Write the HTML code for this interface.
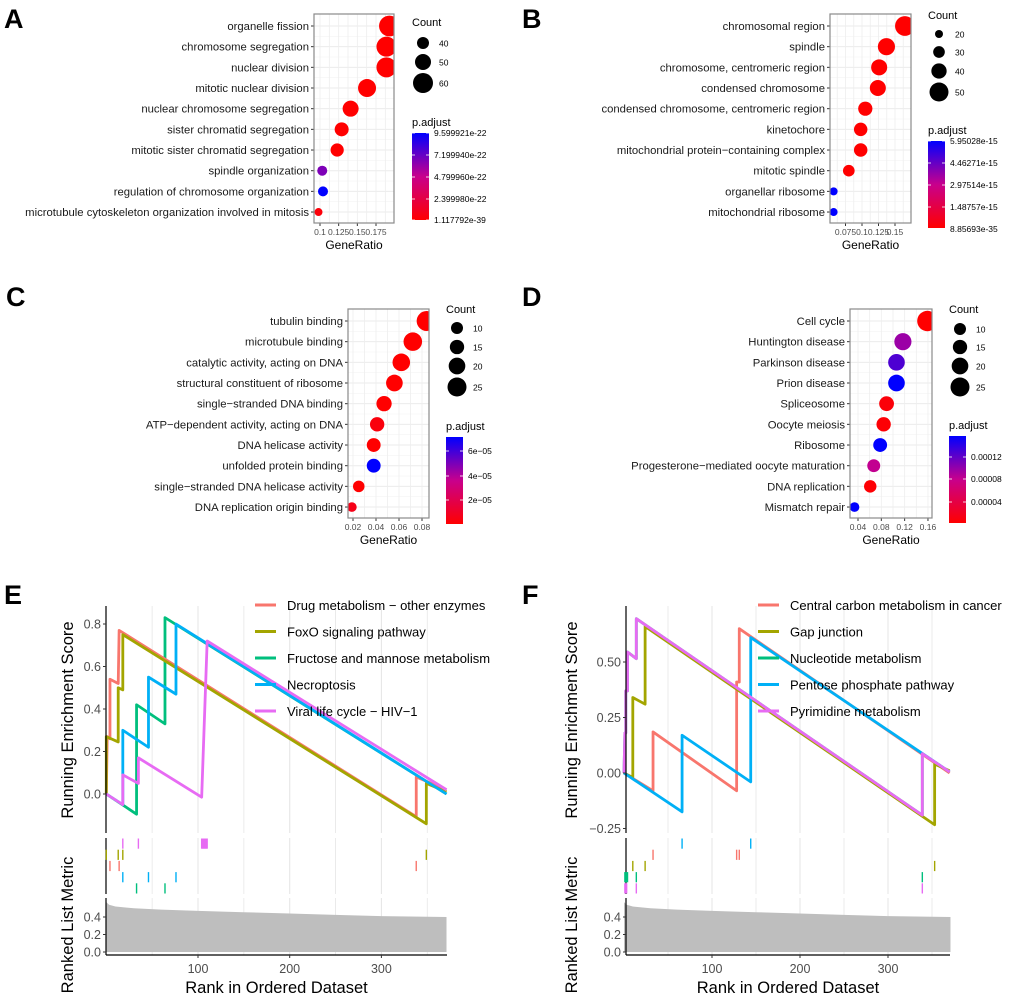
<!DOCTYPE html>
<html><head><meta charset="utf-8"><style>
body{margin:0;background:#fff}
svg{display:block;font-family:"Liberation Sans",Arial,sans-serif}
</style></head><body>
<svg id="fig" width="1020" height="1000" viewBox="0 0 1020 1000"></svg>
<script>
// ---------- Panel A data ----------
const aTerms=["organelle fission","chromosome segregation","nuclear division","mitotic nuclear division","nuclear chromosome segregation","sister chromatid segregation","mitotic sister chromatid segregation","spindle organization","regulation of chromosome organization","microtubule cytoskeleton organization involved in mitosis"];
const aRatio=[0.193,0.189,0.189,0.163,0.141,0.129,0.123,0.103,0.104,0.098];
const aCount=[62,60,60,55,50,45,43,35,35,30];
const aPadj=[0,0,0,0,0,0,0,6.6,9.6,0.3];
const aTicks=[0.1,0.125,0.15,0.175];
const aTickLabels=["0.1","0.125","0.15","0.175"];
const aCountLegend=[40,50,60];
const aPadjLabels=["9.599921e-22","7.199940e-22","4.799960e-22","2.399980e-22","1.117792e-39"];
// ---------- Panel B data ----------
const bTerms=["chromosomal region","spindle","chromosome, centromeric region","condensed chromosome","condensed chromosome, centromeric region","kinetochore","mitochondrial protein\u2212containing complex","mitotic spindle","organellar ribosome","mitochondrial ribosome"];
const bRatio=[0.165,0.137,0.126,0.124,0.105,0.098,0.098,0.080,0.057,0.057];
const bCount=[52,45,42,42,37,35,35,30,20,20];
const bPadj=[0,0,0,0,0,0,0,0,5.95,5.95];
const bTicks=[0.075,0.1,0.125,0.15];
const bTickLabels=["0.075","0.1","0.125","0.15"];
const bCountLegend=[20,30,40,50];
const bPadjLabels=["5.95028e-15","4.46271e-15","2.97514e-15","1.48757e-15","8.85693e-35"];
// ---------- Panel C data ----------
const cTerms=["tubulin binding","microtubule binding","catalytic activity, acting on DNA","structural constituent of ribosome","single\u2212stranded DNA binding","ATP\u2212dependent activity, acting on DNA","DNA helicase activity","unfolded protein binding","single\u2212stranded DNA helicase activity","DNA replication origin binding"];
const cRatio=[0.084,0.072,0.062,0.056,0.047,0.041,0.038,0.038,0.025,0.019];
const cCount=[27,24,22,20,17,15,14,14,9,5];
const cPadj=[0,0,0,0,0,0.3,0,7.2,0,0.6];
const cTicks=[0.02,0.04,0.06,0.08];
const cTickLabels=["0.02","0.04","0.06","0.08"];
const cCountLegend=[10,15,20,25];
const cPadjLabels=["6e\u221205","4e\u221205","2e\u221205"];
// ---------- Panel D data ----------
const dTerms=["Cell cycle","Huntington disease","Parkinson disease","Prion disease","Spliceosome","Oocyte meiosis","Ribosome","Progesterone\u2212mediated oocyte maturation","DNA replication","Mismatch repair"];
const dRatio=[0.159,0.117,0.106,0.106,0.089,0.084,0.078,0.067,0.061,0.034];
const dCount=[28,21,20,20,16,15,14,12,11,5];
const dPadj=[0,9.5,12.5,15.5,0.5,0.3,15.5,8,0.2,15.5];
const dTicks=[0.04,0.08,0.12,0.16];
const dTickLabels=["0.04","0.08","0.12","0.16"];
const dCountLegend=[10,15,20,25];
const dPadjLabels=["0.00012","0.00008","0.00004"];
// ---------- Panel E (GSEA) data ----------
const eNames=["Drug metabolism \u2212 other enzymes","FoxO signaling pathway","Fructose and mannose metabolism","Necroptosis","Viral life cycle \u2212 HIV\u22121"];
const eRedRank=[0,1,4,4,13,14,338,338,371];
const eRedES=[0,0.27,0.26,0.54,0.52,0.77,-0.107,0.08,0.02];
const eOliveRank=[0,0,13,13,18,18,349,349,371];
const eOliveES=[0,0.27,0.245,0.5,0.49,0.75,-0.14,0.05,0.01];
const eGreenRank=[0,33,33,64,64,371];
const eGreenES=[0,-0.095,0.42,0.33,0.83,0.0];
const eBlueRank=[0,18,18,46,46,76,76,371];
const eBlueES=[0,-0.05,0.30,0.22,0.55,0.47,0.80,0.0];
const ePinkRank=[0,18,18,35,35,104,110,371];
const ePinkES=[0,-0.05,0.09,0.05,0.17,-0.015,0.72,0.02];
const eHitsPink=[18,35,104,105,106,107,108,109,110];
const eHitsOlive=[0,13,18,349];
const eHitsRed=[4,14,338];
const eHitsBlue=[18,46,76];
const eHitsGreen=[33,64];
const eYTicks=[0,0.2,0.4,0.6,0.8];
const eYTickLabels=["0.0","0.2","0.4","0.6","0.8"];
// ---------- Panel F (GSEA) data ----------
const fNames=["Central carbon metabolism in cancer","Gap junction","Nucleotide metabolism","Pentose phosphate pathway","Pyrimidine metabolism"];
const fRedRank=[0,33,33,128,128,131,131,370];
const fRedES=[0,-0.08,0.185,-0.08,0.41,0.41,0.65,0.0];
const fOliveRank=[0,10,10,24,24,353,353,370];
const fOliveES=[0,-0.02,0.34,0.31,0.66,-0.233,0.04,0.01];
const fGreenRank=[0,1,2,2,4,4,14,14,339,339,370];
const fGreenES=[0,0.18,0.18,0.37,0.37,0.545,0.515,0.695,-0.19,0.087,0.005];
const fBlueRank=[0,66,66,144,144,370];
const fBlueES=[0,-0.175,0.17,-0.04,0.61,0.005];
const fPinkRank=[0,1,2,2,4,4,14,14,339,339,370];
const fPinkES=[0,0.18,0.18,0.37,0.37,0.545,0.515,0.695,-0.19,0.087,0.005];
const fHitsBlue=[66,144];
const fHitsRed=[33,128,131];
const fHitsOlive=[10,24,353];
const fHitsGreen=[1,2,3,4,14,339];
const fHitsPink=[1,2,3,14,339];
const fYTicks=[-0.25,0,0.25,0.5];
const fYTickLabels=["\u22120.25","0.00","0.25","0.50"];
// ---------- shared ranked-list metric ----------
const metricRank=[0,3,10,30,60,100,150,200,250,300,371];
const metricVal=[0.57,0.54,0.52,0.50,0.485,0.47,0.455,0.44,0.425,0.41,0.40];
const xTicks=[100,200,300];

const NS="http://www.w3.org/2000/svg";
const svg=document.getElementById('fig');
function el(tag,attrs,parent,text){const e=document.createElementNS(NS,tag);for(const k in attrs)e.setAttribute(k,attrs[k]);if(text!==undefined)e.textContent=text;(parent||svg).appendChild(e);return e;}
function padjColor(t){t=Math.max(0,Math.min(1,t));
 const stops=[[255,0,0],[200,0,140],[0,0,255]];let a,b,u;
 if(t<0.5){a=stops[0];b=stops[1];u=t/0.5;}else{a=stops[1];b=stops[2];u=(t-0.5)/0.5;}
 return `rgb(${Math.round(a[0]+(b[0]-a[0])*u)},${Math.round(a[1]+(b[1]-a[1])*u)},${Math.round(a[2]+(b[2]-a[2])*u)})`;}

function letter(txt,x,y){const t=el('text',{x:x,y:y,'font-size':27,'font-weight':'bold',fill:'#000'},svg,txt);
 }

function dotPanel(o){
 const g=el('g',{});
 const xs=v=>o.px0+(v-o.v0)*o.k;
 const rowY=i=>o.y0+12+i*20.67;
 const rad=c=>o.r0+(c-o.c0)*o.rk;
 for(let i=0;i<o.terms.length;i++){const y=rowY(i);el('line',{x1:o.x0,x2:o.x1,y1:y,y2:y,stroke:'#ebebeb','stroke-width':1},g);
  if(i<o.terms.length-1)el('line',{x1:o.x0,x2:o.x1,y1:y+10.33,y2:y+10.33,stroke:'#f4f4f4','stroke-width':0.6},g);}
 const step=o.ticks[1]-o.ticks[0];
 for(let v=o.ticks[0]-step*2;v<=o.ticks[o.ticks.length-1]+step*2;v+=step/2){const x=xs(v);if(x>o.x0&&x<o.x1)el('line',{x1:x,x2:x,y1:o.y0,y2:o.y1,stroke:'#eeeeee','stroke-width':0.8},g);}
 o.ticks.forEach((v,i)=>{const x=xs(v);el('line',{x1:x,x2:x,y1:o.y1,y2:o.y1+3,stroke:'#333'},g);
  const t=el('text',{x:x,y:o.y1+12,'font-size':8.5,'text-anchor':'middle',fill:'#4d4d4d'},g,o.tickLabels[i]);
  });
 const cid='clip-'+o.name;const cp=el('clipPath',{id:cid},g);el('rect',{x:o.x0,y:o.y0,width:o.x1-o.x0,height:o.y1-o.y0},cp);
 const dg=el('g',{'clip-path':`url(#${cid})`},g);
 o.terms.forEach((term,i)=>{const y=rowY(i);
  const c=el('circle',{cx:xs(o.ratio[i]),cy:y,r:rad(o.count[i]),fill:padjColor(o.padj[i]/o.pmax)},dg);
  
  
  el('line',{x1:o.x0-3,x2:o.x0,y1:y,y2:y,stroke:'#333'},g);
  const t=el('text',{x:o.x0-5,y:y+4,'font-size':11.3,'text-anchor':'end',fill:'#1a1a1a'},g,term);
  });
 const b=el('rect',{x:o.x0,y:o.y0,width:o.x1-o.x0,height:o.y1-o.y0,fill:'none',stroke:'#8a8a8a','stroke-width':1.2},g);
 
 const xt=el('text',{x:(o.x0+o.x1)/2,y:o.y1+26,'font-size':12,'text-anchor':'middle',fill:'#000'},g,'GeneRatio');
 
 const ct=el('text',{x:o.lx,y:o.ly,'font-size':11,fill:'#000'},g,'Count');
 
 o.countLegend.forEach((c,i)=>{const y=o.lys[i];
  const d=el('circle',{cx:o.lx+11,cy:y,r:rad(c),fill:'#000'},g);
  el('text',{x:o.lx+27,y:y+3.5,'font-size':8.5,fill:'#000'},g,String(c));});
 const pt=el('text',{x:o.lx,y:o.py,'font-size':11,fill:'#000'},g,'p.adjust');
 
 const gid='grad-'+o.name;const lg=el('linearGradient',{id:gid,x1:0,y1:0,x2:0,y2:1},g);
 for(let s=0;s<=10;s++)el('stop',{offset:s/10,'stop-color':padjColor(1-s/10)},lg);
 const bar=el('rect',{x:o.lx,y:o.by0,width:17,height:o.by1-o.by0,fill:`url(#${gid})`},g);
 
 o.padjLabels.forEach((lab,i)=>{const y=o.labYs[i];
  el('line',{x1:o.lx,x2:o.lx+3,y1:y,y2:y,stroke:'#fff','stroke-width':0.8},g);
  el('line',{x1:o.lx+14,x2:o.lx+17,y1:y,y2:y,stroke:'#fff','stroke-width':0.8},g);
  el('text',{x:o.lx+22,y:y+3,'font-size':8.5,fill:'#000'},g,lab);});
}

dotPanel({name:'panel-a',terms:aTerms,ratio:aRatio,count:aCount,padj:aPadj,pmax:9.6,x0:314,x1:394,y0:14,y1:223,px0:320,v0:0.1,k:746.7,ticks:aTicks,tickLabels:aTickLabels,r0:6,c0:40,rk:0.2,countLegend:aCountLegend,lx:412,ly:26,lys:[43,62,83],py:126,by0:133,by1:220,padjLabels:aPadjLabels,labYs:[133,155,177,199,220]});
dotPanel({name:'panel-b',terms:bTerms,ratio:bRatio,count:bCount,padj:bPadj,pmax:5.95,x0:830,x1:911,y0:14,y1:223,px0:862,v0:0.1,k:660,ticks:bTicks,tickLabels:bTickLabels,r0:4,c0:20,rk:0.183,countLegend:bCountLegend,lx:928,ly:19,lys:[34,52,71,92],py:134,by0:141,by1:228,padjLabels:bPadjLabels,labYs:[141,163,185,207,229]});
dotPanel({name:'panel-c',terms:cTerms,ratio:cRatio,count:cCount,padj:cPadj,pmax:7.2,x0:348,x1:429,y0:309,y1:518,px0:353,v0:0.02,k:1150,ticks:cTicks,tickLabels:cTickLabels,r0:6,c0:10,rk:0.233,countLegend:cCountLegend,lx:446,ly:313,lys:[328,347,366,387],py:430,by0:437,by1:524,padjLabels:cPadjLabels,labYs:[451,476,500]});
dotPanel({name:'panel-d',terms:dTerms,ratio:dRatio,count:dCount,padj:dPadj,pmax:15.5,x0:850,x1:932,y0:309,y1:518,px0:858,v0:0.04,k:583,ticks:dTicks,tickLabels:dTickLabels,r0:6,c0:10,rk:0.233,countLegend:dCountLegend,lx:949,ly:313,lys:[329,347,366,387],py:429,by0:436,by1:523,padjLabels:dPadjLabels,labYs:[457,479,502]});

letter('A',4,28);letter('B',522,28);letter('C',6,306);letter('D',522,306);letter('E',4,604);letter('F',522,604);

const COLS={red:'#F8766D',olive:'#A3A500',green:'#00BF7D',blue:'#00B0F6',pink:'#E76BF3'};
function gseaPanel(o){
 const g=el('g',{});
 const xs=r=>o.px0+r*o.kx;
 const ys=v=>o.py0-v*o.ky;
 for(let r=50;r<=350;r+=50){const x=xs(r);
  el('line',{x1:x,x2:x,y1:o.top,y2:o.esBot,stroke:'#e6e6e6','stroke-width':r%100?0.8:1.1},g);
  el('line',{x1:x,x2:x,y1:o.hTop,y2:o.hBot,stroke:'#e6e6e6','stroke-width':r%100?0.8:1.1},g);
  el('line',{x1:x,x2:x,y1:o.mTop,y2:o.mBot,stroke:'#e6e6e6','stroke-width':r%100?0.8:1.1},g);}
 o.series.forEach(s=>{const pts=s.rank.map((r,i)=>xs(r)+','+ys(s.es[i])).join(' ');
  const p=el('polyline',{points:pts,fill:'none',stroke:s.col,'stroke-width':2.8,'stroke-linejoin':'round'},g);
  });
 el('line',{x1:o.x0,x2:o.x0,y1:o.top,y2:o.esBot,stroke:'#000','stroke-width':1.2},g);
 o.yTicks.forEach((v,i)=>{const y=ys(v);el('line',{x1:o.x0-3,x2:o.x0,y1:y,y2:y,stroke:'#333'},g);
  const t=el('text',{x:o.x0-5,y:y+4.5,'font-size':12.5,'text-anchor':'end',fill:'#4d4d4d'},g,o.yLabels[i]);
  });
 const yt=el('text',{transform:`translate(${o.titleX},720) rotate(-90)`,'font-size':16.5,'text-anchor':'middle',fill:'#000'},g,'Running Enrichment Score');
 
 el('line',{x1:o.x0,x2:o.x0,y1:o.hTop,y2:o.hBot,stroke:'#000','stroke-width':1.2},g);
 const rowH=(o.hBot-o.hTop)/5;
 o.hits.forEach((h,ri)=>{h.ranks.forEach(r=>{const x=xs(r);
  const l=el('line',{x1:x,x2:x,y1:o.hTop+ri*rowH+0.5,y2:o.hTop+ri*rowH+rowH-0.5,stroke:h.col,'stroke-width':1.4},g);
  });});
 const myS=v=>o.m0-v*o.mk;
 let d=`M${xs(0)},${myS(0)} `+metricRank.map((r,i)=>`L${xs(r)},${myS(metricVal[i])}`).join(' ')+` L${xs(metricRank[metricRank.length-1])},${myS(0)} Z`;
 const a=el('path',{d:d,fill:'#bebebe'},g);
 el('line',{x1:o.x0,x2:o.x0,y1:o.mTop,y2:o.mBot,stroke:'#000','stroke-width':1.2},g);
 el('line',{x1:o.x0,x2:o.x1,y1:o.mBot,y2:o.mBot,stroke:'#000','stroke-width':1.2},g);
 [0,0.2,0.4].forEach(v=>{const y=myS(v);el('line',{x1:o.x0-3,x2:o.x0,y1:y,y2:y,stroke:'#333'},g);
  el('text',{x:o.x0-5,y:y+4.5,'font-size':12.5,'text-anchor':'end',fill:'#4d4d4d'},g,v.toFixed(1));});
 xTicks.forEach(r=>{const x=xs(r);el('line',{x1:x,x2:x,y1:o.mBot,y2:o.mBot+3,stroke:'#333'},g);
  const t=el('text',{x:x,y:973,'font-size':12.5,'text-anchor':'middle',fill:'#4d4d4d'},g,String(r));
  });
 const xt=el('text',{x:(o.x0+o.x1)/2,y:993,'font-size':16.5,'text-anchor':'middle',fill:'#000'},g,'Rank in Ordered Dataset');
 
 const rt=el('text',{transform:`translate(${o.titleX},925) rotate(-90)`,'font-size':16.5,'text-anchor':'middle',fill:'#000'},g,'Ranked List Metric');
 
 o.legend.forEach((lab,i)=>{const y=605+i*26.5;
  const lg=el('g',{},g);
  el('line',{x1:o.legX,x2:o.legX+21,y1:y,y2:y,stroke:o.legCols[i],'stroke-width':3},lg);
  el('text',{x:o.legX+32,y:y+5,'font-size':13,fill:'#000'},lg,lab);});
}

gseaPanel({name:'panel-e',x0:106,x1:447,px0:106.3,kx:0.917,py0:794,ky:212.5,top:606,esBot:833,hTop:838,hBot:894,mTop:898,mBot:955,m0:952,mk:87.5,
 yTicks:eYTicks,yLabels:eYTickLabels,titleX:73,legX:255,legend:eNames,legCols:[COLS.red,COLS.olive,COLS.green,COLS.blue,COLS.pink],
 series:[{key:'green',rank:eGreenRank,es:eGreenES,col:COLS.green},{key:'red',rank:eRedRank,es:eRedES,col:COLS.red},{key:'olive',rank:eOliveRank,es:eOliveES,col:COLS.olive},{key:'blue',rank:eBlueRank,es:eBlueES,col:COLS.blue},{key:'pink',rank:ePinkRank,es:ePinkES,col:COLS.pink}],
 hits:[{key:'pink',ranks:eHitsPink,col:COLS.pink},{key:'olive',ranks:eHitsOlive,col:COLS.olive},{key:'red',ranks:eHitsRed,col:COLS.red},{key:'blue',ranks:eHitsBlue,col:COLS.blue},{key:'green',ranks:eHitsGreen,col:COLS.green}]});
gseaPanel({name:'panel-f',x0:626,x1:950,px0:624,kx:0.88,py0:773,ky:222,top:606,esBot:833,hTop:838,hBot:894,mTop:898,mBot:955,m0:952,mk:87.5,
 yTicks:fYTicks,yLabels:fYTickLabels,titleX:577,legX:758,legend:fNames,legCols:[COLS.red,COLS.olive,COLS.green,COLS.blue,COLS.pink],
 series:[{key:'green',rank:fGreenRank,es:fGreenES,col:COLS.green},{key:'red',rank:fRedRank,es:fRedES,col:COLS.red},{key:'olive',rank:fOliveRank,es:fOliveES,col:COLS.olive},{key:'blue',rank:fBlueRank,es:fBlueES,col:COLS.blue},{key:'pink',rank:fPinkRank,es:fPinkES,col:COLS.pink}],
 hits:[{key:'blue',ranks:fHitsBlue,col:COLS.blue},{key:'red',ranks:fHitsRed,col:COLS.red},{key:'olive',ranks:fHitsOlive,col:COLS.olive},{key:'green',ranks:fHitsGreen,col:COLS.green},{key:'pink',ranks:fHitsPink,col:COLS.pink}]});
</script>
</body></html>
